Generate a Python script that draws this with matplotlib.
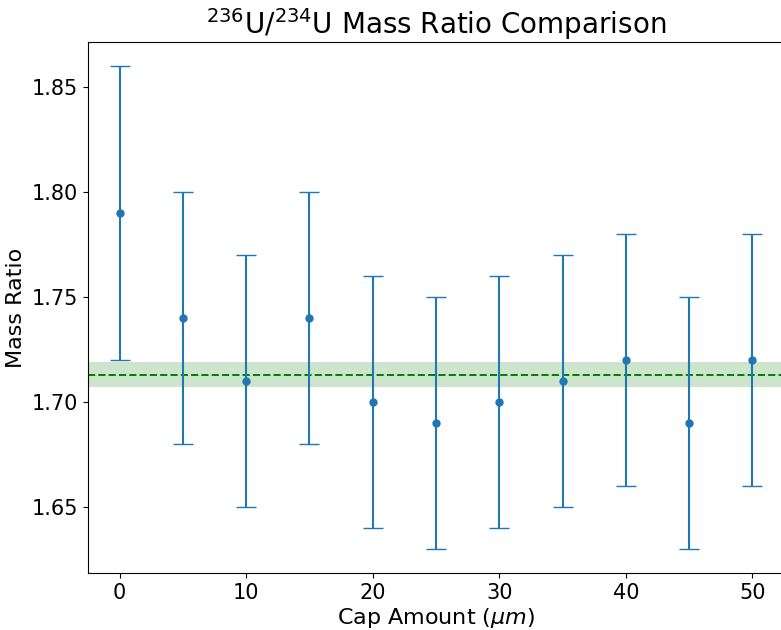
import matplotlib
matplotlib.use("Agg")
import matplotlib.pyplot as plt

cap_amount = [0, 5, 10, 15, 20, 25, 30, 35, 40, 45, 50]
mass_ratio = [1.79, 1.74, 1.71, 1.74, 1.70, 1.69, 1.70, 1.71, 1.72, 1.69, 1.72]
ratio_err = [0.07, 0.06, 0.06, 0.06, 0.06, 0.06, 0.06, 0.06, 0.06, 0.06, 0.06]
ref_mean = 1.713
ref_err = 0.006

fig = plt.figure(figsize=(7.81, 6.30), dpi=100)
ax = fig.add_axes([88/781, 57/630, (784-88)/781, (573-42)/630])

ax.axhspan(ref_mean - ref_err, ref_mean + ref_err, color='green', alpha=0.2, lw=0)
ax.axhline(ref_mean, color='green', ls='--', lw=1.4)
ax.errorbar(cap_amount, mass_ratio, yerr=ratio_err, fmt='o', color='#1f77b4',
            markersize=5, capsize=7.5, elinewidth=1.5, capthick=1.0)

ax.set_title(r'$^{236}$U/$^{234}$U Mass Ratio Comparison', fontsize=20)
ax.set_xlabel(r'Cap Amount ($\mu m$)', fontsize=16, labelpad=2)
ax.set_ylabel('Mass Ratio', fontsize=16)
ax.tick_params(labelsize=15)
ax.set_yticks([1.65, 1.70, 1.75, 1.80, 1.85])

fig.savefig('out.png', dpi=100)
